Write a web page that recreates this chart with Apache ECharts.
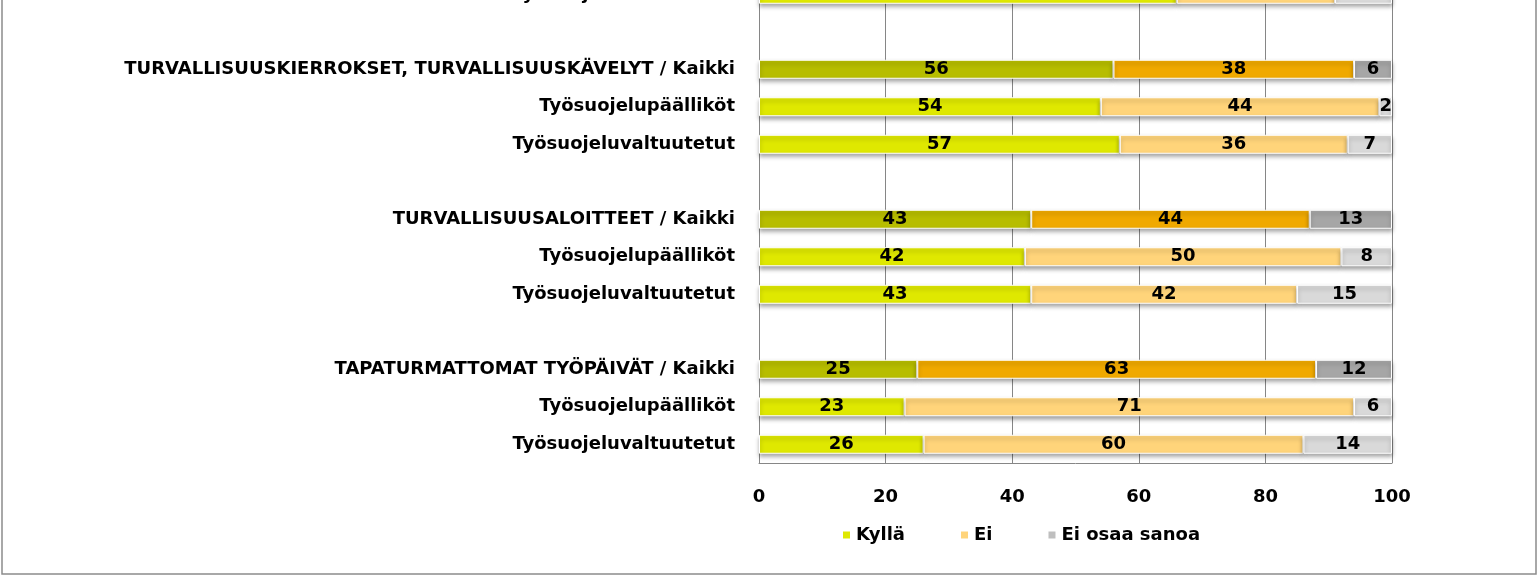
<!DOCTYPE html>
<html>
<head>
<meta charset="utf-8">
<style>
  html, body { margin: 0; padding: 0; background: #fff; }
  #wrap { position: relative; width: 1540px; height: 578px; overflow: hidden; }
  /* the reference is a crop of a taller chart: shift the canvas up */
  #chart { position: absolute; left: 0; top: -25px; width: 1540px; height: 603px; }
</style>
<script src="https://cdn.jsdelivr.net/npm/echarts@6/dist/echarts.min.js"></script>
</head>
<body>
<div id="wrap"><div id="chart"></div></div>
<script>
// rows from top to bottom, '' = empty spacer row
var categories = [
  'Työsuojeluvaltuutetut',
  '',
  'TURVALLISUUSKIERROKSET, TURVALLISUUSKÄVELYT / Kaikki',
  'Työsuojelupäälliköt',
  'Työsuojeluvaltuutetut',
  '',
  'TURVALLISUUSALOITTEET / Kaikki',
  'Työsuojelupäälliköt',
  'Työsuojeluvaltuutetut',
  '',
  'TAPATURMATTOMAT TYÖPÄIVÄT / Kaikki',
  'Työsuojelupäälliköt',
  'Työsuojeluvaltuutetut'
]
var kylla = [66, null, 56, 54, 57, null, 43, 42, 43, null, 25, 23, 26]
var ei = [25, null, 38, 44, 36, null, 44, 50, 42, null, 63, 71, 60]
var eiOsaa = [9, null, 6, 2, 7, null, 13, 8, 15, null, 12, 6, 14]
var xTicks = [0, 20, 40, 60, 80, 100]

var seriesNames = ['Kyllä', 'Ei', 'Ei osaa sanoa']
var normalColors = ['#dfe800', '#ffd47a', '#d9d9d9']
var kaikkiColors = ['#b7bd00', '#f0a900', '#a6a6a6']
var legendColors = ['#dfe800', '#ffd47a', '#bfbfbf']

var font = 'DejaVu Sans'
var txt = { fontFamily: font, fontSize: 18, fontWeight: 'bold', color: '#000' }

function buildData(values, idx) {
  return values.map(function (v, i) {
    if (v === null) return '-'
    if (categories[i].indexOf('/ Kaikki') !== -1) {
      return { value: v, itemStyle: { color: kaikkiColors[idx] } }
    }
    return v
  })
}

var chart = echarts.init(document.getElementById('chart'))

chart.setOption({
  backgroundColor: '#fff',
  animation: false,
  textStyle: { fontFamily: font },
  graphic: [{
    type: 'rect',
    shape: { x: 2, y: 10, width: 1534, height: 589 },
    style: { fill: 'none', stroke: '#8c8c8c', lineWidth: 1.5 },
    z: 100
  }],
  legend: {
    left: 836,
    top: 546,
    icon: 'rect',
    itemWidth: 9,
    itemHeight: 9,
    itemGap: 54,
    textStyle: txt,
    data: seriesNames.map(function (n, i) {
      return { name: n, itemStyle: { color: legendColors[i] } }
    })
  },
  grid: {
    left: 759,
    right: 148,
    top: 0.5,
    bottom: 115,
    containLabel: false
  },
  xAxis: {
    type: 'value',
    min: xTicks[0],
    max: xTicks[xTicks.length - 1],
    interval: 20,
    axisLine: { show: true, lineStyle: { color: '#868686' } },
    axisTick: { show: false },
    splitLine: { show: true, lineStyle: { color: '#868686', width: 1 } },
    axisLabel: Object.assign({ margin: 25 }, txt)
  },
  yAxis: {
    type: 'category',
    inverse: true,
    data: categories,
    axisLine: { show: true, lineStyle: { color: '#868686' } },
    axisTick: { show: false },
    axisLabel: Object.assign({ margin: 24 }, txt)
  },
  series: seriesNames.map(function (name, i) {
    return {
      name: name,
      type: 'bar',
      stack: 'total',
      barWidth: 19,
      itemStyle: {
        color: normalColors[i],
        borderColor: '#fff',
        borderWidth: 1,
        shadowColor: 'rgba(0,0,0,0.35)',
        shadowBlur: 4,
        shadowOffsetY: 3
      },
      label: Object.assign({ show: true, position: 'inside' }, txt),
      data: buildData([kylla, ei, eiOsaa][i], i)
    }
  })
})
</script>
</body>
</html>
